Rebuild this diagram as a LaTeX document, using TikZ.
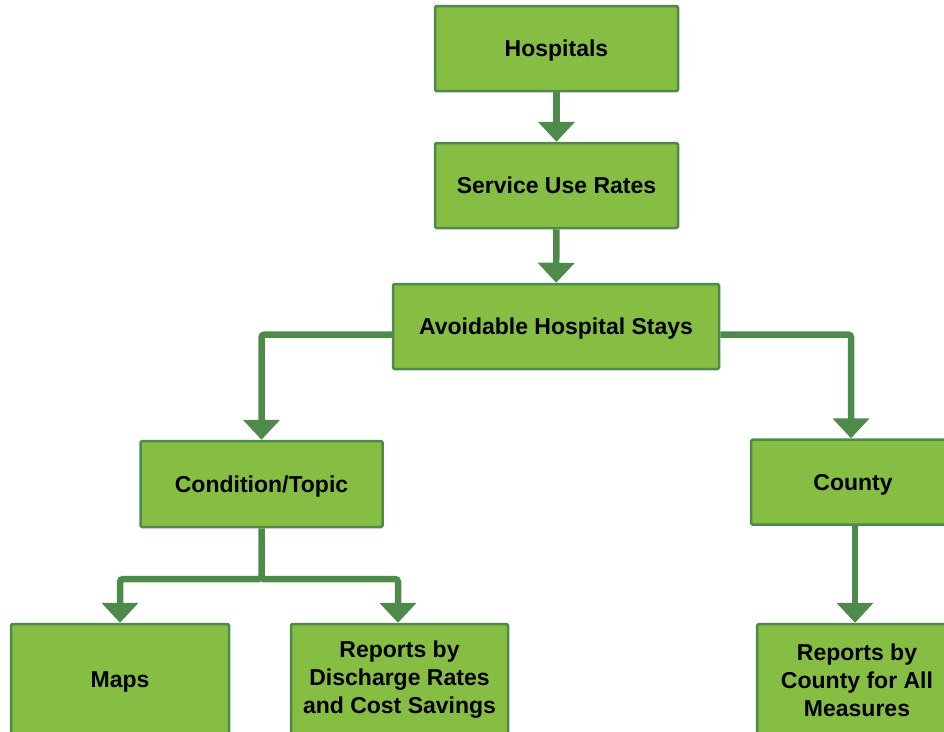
\documentclass[tikz,border=0pt]{standalone}
\usepackage{fontspec}
\setmainfont{Liberation Sans}
\usetikzlibrary{arrows.meta,positioning,calc}
\definecolor{leaf}{HTML}{86BE43}
\definecolor{moss}{HTML}{4E8A4A}
\tikzset{box/.style={draw=moss, line width=2.5pt, fill=leaf, rounded corners=1.5pt, align=center, inner sep=0pt, font=\fontsize{23}{28}\selectfont\bfseries},
  onebox/.style={box, text depth=0pt},
  link/.style={draw=moss, line width=6.5pt, rounded corners=3pt, -{Triangle[width=36pt,length=20pt]}}}

\begin{document}
\begin{tikzpicture}[x=1pt, y=-1pt]
\clip (0,0) rectangle (944,731);
\node[onebox, minimum width=243pt, minimum height=85pt] (hosp) at (556.5,48.5) {Hospitals};
\node[onebox, minimum width=243pt, minimum height=85pt] (rates) at (556.5,185.5) {Service Use Rates};
\node[onebox, minimum width=326pt, minimum height=85pt] (stays) at (556,326.5) {Avoidable Hospital Stays};
\node[onebox, minimum width=242pt, minimum height=86pt] (topic) at (261.5,484) {Condition/Topic};
\node[onebox, minimum width=204pt, minimum height=85pt] (county) at (853,482) {County};
\node[onebox, minimum width=218pt, minimum height=112pt] (maps) at (120,680) {Maps};
\node[box, minimum width=217pt, minimum height=112pt] (discharge) at (399.5,680) {Reports by\\Discharge Rates\\and Cost Savings};
\node[box, minimum width=200pt, minimum height=112pt] (allmeasures) at (857,680) {Reports by\\County for All\\Measures};
% connectors
\draw[link] (hosp) -- (rates);
\draw[link] (rates) -- (stays);
\draw[link] ([yshift=-8pt]stays.west) -| (topic.north);
\draw[link] ([yshift=-8pt]stays.east) -| ([xshift=-2pt]county.north);
\coordinate (split) at (topic.south |- 0,579);
\draw[link] (topic.south) -- (split) -| (maps.north);
\draw[link] (split) -| ([xshift=-1.5pt]discharge.north);
\draw[link] ([xshift=2pt]county.south) -- ([xshift=-2pt]allmeasures.north);
\end{tikzpicture}
\end{document}
